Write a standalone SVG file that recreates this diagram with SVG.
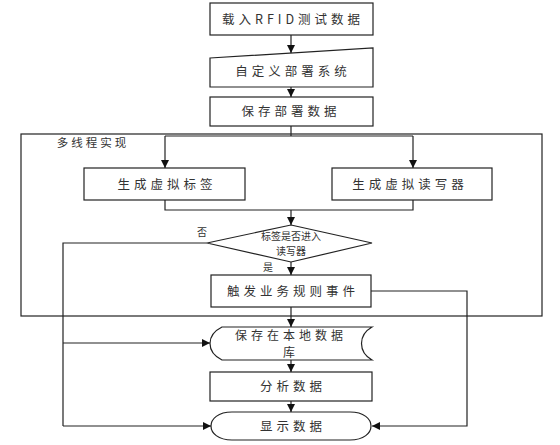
<svg xmlns="http://www.w3.org/2000/svg" width="560" height="445" viewBox="0 0 560 445">
<defs>
<marker id="ah" viewBox="0 0 10 10" refX="10" refY="5" markerWidth="8" markerHeight="8" markerUnits="userSpaceOnUse" orient="auto">
<path d="M0,0 L10,5 L0,10 Z" fill="#111"/>
</marker>
<style>
.n{fill:#fff;stroke:#222;stroke-width:1.2}
.t{font-family:"Noto Sans CJK SC","Liberation Serif",serif;font-size:12.5px;fill:#333;text-anchor:middle;letter-spacing:4px}
.s{font-family:"Noto Sans CJK SC","Liberation Serif",serif;font-size:10px;fill:#333;text-anchor:middle}
.c{fill:none;stroke:#222;stroke-width:1.2}
.a{marker-end:url(#ah)}
</style>
</defs>
<rect width="560" height="445" fill="#fff"/>
<g id="container">
<rect class="n" x="21" y="134" width="521" height="182" fill="none"/>
<text class="t" x="93" y="147" style="font-size:11.5px;letter-spacing:3px">多线程实现</text>
</g>
<g id="load">
<rect class="n" x="210" y="3" width="163" height="32"/>
<text class="t" x="293" y="24">载入RFID测试数据</text>
</g>
<g id="custom">
<polygon class="n" points="210,58 373,48 373,87 210,87"/>
<text class="t" x="293" y="76">自定义部署系统</text>
</g>
<g id="savedeploy">
<rect class="n" x="210" y="97" width="163" height="29"/>
<text class="t" x="291" y="116">保存部署数据</text>
</g>
<g id="tag">
<rect class="n" x="84" y="168" width="161" height="32"/>
<text class="t" x="167" y="189">生成虚拟标签</text>
</g>
<g id="reader">
<rect class="n" x="332" y="168" width="160" height="32"/>
<text class="t" x="410" y="189">生成虚拟读写器</text>
</g>
<g id="decision">
<polygon class="n" points="291,225 372,243 291,262 207,243"/>
<text class="s" x="291" y="239.5">标签是否进入</text>
<text class="s" x="291" y="254.5">读写器</text>
</g>
<g id="rule">
<rect class="n" x="211" y="275" width="160" height="32"/>
<text class="t" x="293" y="296">触发业务规则事件</text>
</g>
<g id="savelocal">
<path class="n" d="M222,327 L372,327 C358,335 358,352 372,360 L222,360 C206,352 206,335 222,327 Z"/>
<text class="t" x="291" y="340" style="font-size:12px">保存在本地数据</text>
<text class="t" x="291" y="357" style="font-size:12px">库</text>
</g>
<g id="analyze">
<rect class="n" x="210" y="372" width="162" height="29"/>
<text class="t" x="293" y="391">分析数据</text>
</g>
<g id="display">
<path class="n" d="M232,412 L350,412 C378,412 378,440 350,440 L232,440 C204,440 204,412 232,412 Z"/>
<text class="t" x="293" y="431">显示数据</text>
</g>
<g id="connectors">
<path class="c a" d="M291,35 L291,53"/>
<path class="c a" d="M291,87 L291,97"/>
<path class="c" d="M291,126 L291,136 M165,136 L413,136"/>
<path class="c a" d="M165,136 L165,168"/>
<path class="c a" d="M413,136 L413,168"/>
<path class="c" d="M165,200 L165,210 L413,210 L413,200"/>
<path class="c a" d="M291,210 L291,225"/>
<path class="c" d="M207,243 L63,243 L63,426"/>
<path class="c a" d="M63,343 L210,343"/>
<path class="c a" d="M63,426 L211,426"/>
<path class="c a" d="M291,262 L291,275"/>
<path class="c a" d="M371,291 L467,291 L467,426 L372,426"/>
<path class="c a" d="M291,307 L291,327"/>
<path class="c a" d="M291,360 L291,372"/>
<path class="c a" d="M291,401 L291,412"/>
<text class="s" x="202" y="236">否</text>
<text class="s" x="268" y="271">是</text>
</g>
</svg>
